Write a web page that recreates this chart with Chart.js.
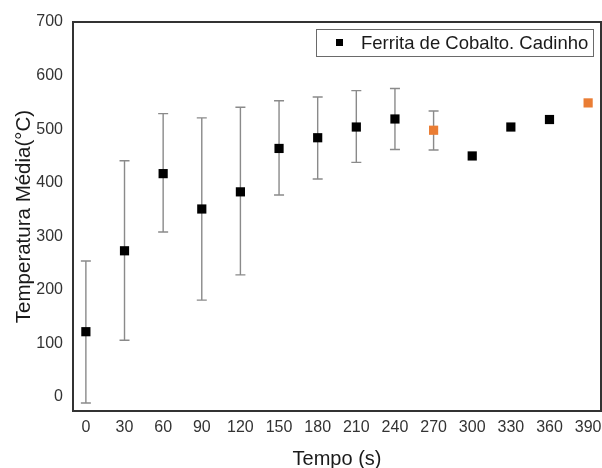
<!DOCTYPE html>
<html><head><meta charset="utf-8">
<script src="https://cdn.jsdelivr.net/npm/chart.js@4/dist/chart.umd.min.js"></script>
<style>html,body{margin:0;padding:0;background:#fff}canvas{display:block}</style>
</head><body>
<canvas id="c" width="602" height="468"></canvas>
<script>
// ---- data ----
const tempo      = [0, 30, 60, 90, 120, 150, 180, 210, 240, 270, 300, 330, 360, 390];
const tempMedia  = [122, 273, 417, 351, 383, 464, 484, 504, 519, 498, 450, 504, 518, 549];
const erroSup    = [254, 441, 529, 521, 541, 553, 560, 572, 576, 534, null, null, null, null];
const erroInf    = [-11, 106, 308, 181, 228, 377, 407, 438, 462, 461, null, null, null, null];
const xTicks     = [0, 30, 60, 90, 120, 150, 180, 210, 240, 270, 300, 330, 360, 390];
const yTicks     = [0, 100, 200, 300, 400, 500, 600, 700];
const destaqueX  = [270, 390];
const serieNome  = 'Ferrita de Cobalto. Cadinho';

// ---- styles ----
const FONT = '"Liberation Sans", Arial, sans-serif';
const BLACK = '#000000';
const ORANGE = '#ea7d34';

const errorBars = {
  id: 'errorBars',
  beforeDatasetsDraw(chart) {
    const {ctx, scales: {x, y}} = chart;
    ctx.save();
    ctx.strokeStyle = '#8a8a8a';
    ctx.lineWidth = 1.4;
    tempo.forEach((t, i) => {
      if (erroSup[i] == null) return;
      const px = x.getPixelForValue(t);
      const top = y.getPixelForValue(erroSup[i]);
      const bot = y.getPixelForValue(erroInf[i]);
      ctx.beginPath();
      ctx.moveTo(px, top); ctx.lineTo(px, bot);
      ctx.moveTo(px - 5, top); ctx.lineTo(px + 5, top);
      ctx.moveTo(px - 5, bot); ctx.lineTo(px + 5, bot);
      ctx.stroke();
    });
    ctx.restore();
  }
};

const frameAndLegend = {
  id: 'frameAndLegend',
  afterDraw(chart) {
    const {ctx, chartArea: a} = chart;
    ctx.save();
    ctx.strokeStyle = '#333333';
    ctx.lineWidth = 2;
    ctx.strokeRect(a.left, a.top, a.right - a.left, a.bottom - a.top);
    // legend
    const lx = a.right - 285, ly = a.top + 7, lw = 277, lh = 27;
    ctx.strokeStyle = '#6a6a6a';
    ctx.lineWidth = 1;
    ctx.fillStyle = '#fff';
    ctx.fillRect(lx, ly, lw, lh);
    ctx.strokeRect(lx + 0.5, ly + 0.5, lw, lh);
    ctx.fillStyle = BLACK;
    ctx.fillRect(lx + 20, ly + 10, 7, 7);
    ctx.fillStyle = '#1a1a1a';
    ctx.font = '18.5px ' + FONT;
    ctx.textBaseline = 'middle';
    ctx.textAlign = 'left';
    ctx.fillText(chart.data.datasets[0].label, lx + 45, ly + lh / 2 + 1);
    ctx.restore();
  }
};

const noPad = () => ({left: 0, top: 0, right: 0, bottom: 0});
const isDestaque = (ctx) => destaqueX.includes(tempo[ctx.dataIndex]);

new Chart(document.getElementById('c'), {
  type: 'scatter',
  data: {
    datasets: [{
      label: serieNome,
      data: tempo.map((t, i) => ({x: t, y: tempMedia[i]})),
      pointStyle: 'rect',
      pointRadius: 6.5,
      pointHoverRadius: 6.5,
      pointBorderWidth: 0,
      pointBackgroundColor: (c) => isDestaque(c) ? ORANGE : BLACK,
      pointBorderColor: (c) => isDestaque(c) ? ORANGE : BLACK,
      showLine: false
    }]
  },
  options: {
    responsive: false,
    animation: false,
    devicePixelRatio: 1,
    layout: {autoPadding: false, padding: {top: 22, right: 1, left: 0, bottom: 0}},
    plugins: {legend: {display: false}, tooltip: {enabled: false}},
    scales: {
      x: {
        type: 'linear', min: -10, max: 400,
        grid: {display: false, drawTicks: true, tickLength: 7},
        border: {display: false},
        afterBuildTicks: (s) => { s.ticks = xTicks.map(v => ({value: v})); },
        afterFit: (s) => { s.height = 57; s.paddingLeft = 0; s.paddingRight = 0; s.getPadding = noPad; },
        ticks: {color: '#333', font: {family: FONT, size: 16}, padding: 0, maxRotation: 0, autoSkip: false},
        title: {display: true, text: 'Tempo (s)', color: '#1a1a1a', font: {family: FONT, size: 20}, padding: {top: 0, bottom: -3}}
      },
      y: {
        type: 'linear', min: -26, max: 700,
        grid: {display: false, drawTicks: false, tickLength: 0},
        border: {display: false},
        afterBuildTicks: (s) => { s.ticks = yTicks.map(v => ({value: v})); },
        afterFit: (s) => { s.width = 73; s.paddingTop = 0; s.paddingBottom = 0; s.getPadding = noPad; },
        ticks: {color: '#333', font: {family: FONT, size: 16}, padding: 10, autoSkip: false},
        title: {display: true, text: 'Temperatura Média(°C)', color: '#1a1a1a', font: {family: FONT, size: 20.5}, padding: {top: 12, bottom: 0}}
      }
    }
  },
  plugins: [errorBars, frameAndLegend]
});
</script>
</body></html>
